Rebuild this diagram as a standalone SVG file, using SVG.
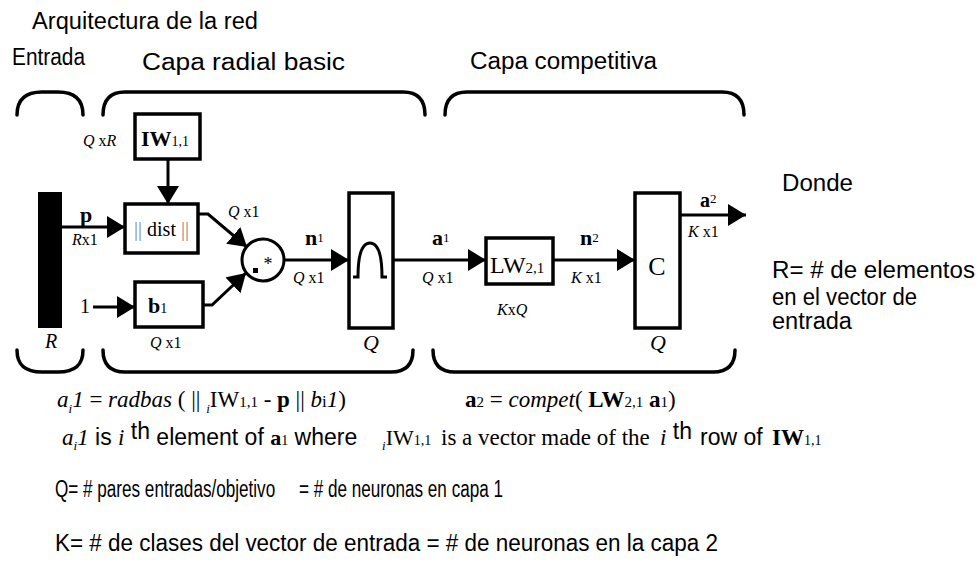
<svg xmlns="http://www.w3.org/2000/svg" width="979" height="563" viewBox="0 0 979 563">
<defs>
<style>
.s{font-family:"Liberation Sans",Arial,sans-serif;font-size:23px;fill:#000}
.t{font-family:"Liberation Serif","Times New Roman",serif;fill:#000}
.i{font-style:italic}
.b{font-weight:bold}
.box{fill:#fff;stroke:#000;stroke-width:3.5}
.ln{fill:none;stroke:#000;stroke-width:3}
.br{fill:none;stroke:#000;stroke-width:3.5;stroke-linecap:round}
.pre{white-space:pre}
</style>
<marker id="ah" markerUnits="userSpaceOnUse" markerWidth="18" markerHeight="22" refX="18" refY="11" orient="auto">
<path d="M0,0 L18,11 L0,22 Z" fill="#000"/>
</marker>
</defs>
<rect width="979" height="563" fill="#fff"/>

<!-- headers -->
<text class="s" x="32" y="29" textLength="226" lengthAdjust="spacingAndGlyphs">Arquitectura de la red</text>
<text class="s" x="12" y="65" textLength="73" lengthAdjust="spacingAndGlyphs">Entrada</text>
<text class="s" x="142" y="70" textLength="203" lengthAdjust="spacingAndGlyphs">Capa radial basic</text>
<text class="s" x="470" y="69" textLength="187" lengthAdjust="spacingAndGlyphs">Capa competitiva</text>

<!-- brackets -->
<g id="brackets">
<path class="br" d="M17,115 C17,100 25,92 42,92 H58 C75,92 83,100 83,115"/>
<path class="br" d="M103,115 Q103,92 125,92 H403 Q425,92 425,115"/>
<path class="br" d="M445,115 Q445,92 467,92 H722 Q744,92 744,115"/>
<path class="br" d="M17,350 C17,365 25,372 42,372 H58 C75,372 83,365 83,350"/>
<path class="br" d="M103,350 Q103,372 125,372 H391 Q413,372 413,350"/>
<path class="br" d="M433,350 Q433,372 455,372 H713 Q735,372 735,350"/>
</g>

<!-- nodes -->
<g id="input">
<rect x="38" y="192" width="24" height="136" fill="#000"/>
<text class="t i" x="45" y="348" font-size="20">R</text>
</g>
<g id="iw">
<rect class="box" x="135" y="114" width="65" height="45"/>
<text class="t" y="146"><tspan x="141" class="b" font-size="22">IW</tspan><tspan font-size="14">1,1</tspan></text>
<text class="t" x="83" y="146" font-size="16"><tspan class="i">Q</tspan> x<tspan class="i">R</tspan></text>
</g>
<g id="dist">
<rect class="box" x="125" y="204" width="73" height="49"/>
<text class="t" x="161.5" y="236" font-size="20" text-anchor="middle"><tspan fill="#8a8a8a">||</tspan> dist <tspan fill="#8a8a8a">||</tspan></text>
</g>
<g id="bias">
<rect class="box" x="135" y="282" width="68" height="45"/>
<text class="t" y="313"><tspan x="148" class="b" font-size="22">b</tspan><tspan font-size="14">1</tspan></text>
<text class="t" x="150" y="348" font-size="16"><tspan class="i">Q</tspan> x1</text>
</g>
<g id="mult">
<circle cx="263" cy="260" r="21" fill="#fff" stroke="#000" stroke-width="3"/>
<text class="t" x="268" y="270" font-size="18" text-anchor="middle">*</text>
<rect x="253" y="268" width="5" height="5" fill="#000"/>
</g>
<g id="radbas">
<rect class="box" x="349" y="193" width="44" height="135"/>
<path class="ln" d="M353,277 H358 C358,255 362,243 370,243 C378,243 382,255 382,277 H387"/>
<text class="t i" x="363" y="350" font-size="22">Q</text>
</g>
<g id="lw">
<rect class="box" x="486" y="238" width="67" height="46"/>
<text class="t" y="273"><tspan x="490" font-size="24">LW</tspan><tspan font-size="15">2,1</tspan></text>
<text class="t" x="497" y="315" font-size="16"><tspan class="i">K</tspan>x<tspan class="i">Q</tspan></text>
</g>
<g id="compet">
<rect class="box" x="635" y="193" width="45" height="135"/>
<text class="t" x="657" y="275" font-size="26" text-anchor="middle">C</text>
<text class="t i" x="650" y="350" font-size="22">Q</text>
</g>

<!-- connectors -->
<g id="connectors">
<path class="ln" d="M62,227 H125" marker-end="url(#ah)"/>
<path class="ln" d="M168,159 V204" marker-end="url(#ah)"/>
<path class="ln" d="M93,307 H135" marker-end="url(#ah)"/>
<path class="ln" d="M198,214 H208 L247,247" marker-end="url(#ah)"/>
<path class="ln" d="M203,305 H212 L246,273" marker-end="url(#ah)"/>
<path class="ln" d="M284,260 H349" marker-end="url(#ah)"/>
<path class="ln" d="M393,260 H486" marker-end="url(#ah)"/>
<path class="ln" d="M553,260 H635" marker-end="url(#ah)"/>
<path class="ln" d="M680,215 H746" marker-end="url(#ah)"/>
</g>

<!-- connector labels -->
<g id="labels">
<text class="t b" x="80" y="222" font-size="22">p</text>
<text class="t" x="72" y="245" font-size="16"><tspan class="i">R</tspan>x1</text>
<text class="t" x="80" y="313" font-size="20">1</text>
<text class="t" x="228" y="217" font-size="16"><tspan class="i">Q</tspan> x1</text>
<text class="t" y="245"><tspan x="305" class="b" font-size="22">n</tspan><tspan font-size="13" dy="-3">1</tspan></text>
<text class="t" x="293" y="283" font-size="16"><tspan class="i">Q</tspan> x1</text>
<text class="t" y="245"><tspan x="432" class="b" font-size="22">a</tspan><tspan font-size="13" dy="-3">1</tspan></text>
<text class="t" x="422" y="283" font-size="16"><tspan class="i">Q</tspan> x1</text>
<text class="t" y="245"><tspan x="580" class="b" font-size="22">n</tspan><tspan font-size="13" dy="-3">2</tspan></text>
<text class="t" x="571" y="283" font-size="16"><tspan class="i">K</tspan> x1</text>
<text class="t" y="207"><tspan x="700" class="b" font-size="20">a</tspan><tspan font-size="13" dy="-4">2</tspan></text>
<text class="t" x="688" y="237" font-size="16"><tspan class="i">K</tspan> x1</text>
</g>

<!-- formulas -->
<text class="t" y="407" font-size="23"><tspan x="57" class="i">a</tspan><tspan class="i" font-size="13" dy="6">i</tspan><tspan class="i" dy="-6">1</tspan> = <tspan class="i">radbas</tspan> ( || <tspan class="i" font-size="13" dy="6">i</tspan><tspan dy="-6">IW</tspan><tspan font-size="15">1,1</tspan> - <tspan class="b">p</tspan> || <tspan class="i">b</tspan><tspan font-size="17">i</tspan><tspan class="i">1</tspan>)</text>
<text class="t" y="407" font-size="23"><tspan x="465" class="b">a</tspan><tspan font-size="15">2</tspan> = <tspan class="i">compet</tspan>( <tspan class="b">LW</tspan><tspan font-size="15">2,1</tspan> <tspan class="b">a</tspan><tspan font-size="15">1</tspan>)</text>

<text y="445"><tspan x="62" class="t i" font-size="23">a</tspan><tspan class="t i" font-size="13" dy="5">i</tspan><tspan class="t i" font-size="23" dy="-5">1</tspan><tspan class="s" font-size="21"> is </tspan><tspan class="t i" font-size="23">i</tspan><tspan class="s" font-size="19" dy="-6"> th</tspan><tspan class="s" font-size="21" dy="6"> element of </tspan><tspan class="t b" font-size="22">a</tspan><tspan class="t" font-size="14">1</tspan><tspan class="s" font-size="21"> where </tspan><tspan x="382" class="t i" font-size="13" dy="5">i</tspan><tspan class="t" font-size="22" dy="-5">IW</tspan><tspan class="t" font-size="14">1,1</tspan><tspan x="441" class="t" font-size="23">is a vector made of the</tspan><tspan x="660" class="t i" font-size="23">i</tspan><tspan class="s" font-size="19" dy="-6"> th</tspan><tspan x="700" class="s" font-size="21" dy="6">row of</tspan><tspan x="772" class="t b" font-size="23">IW</tspan><tspan class="t" font-size="14">1,1</tspan></text>

<!-- notes -->
<text class="s" x="782" y="191" textLength="71" lengthAdjust="spacingAndGlyphs">Donde</text>
<text class="s" x="772" y="278" textLength="203" lengthAdjust="spacingAndGlyphs">R= # de elementos</text>
<text class="s" x="772" y="305" textLength="145" lengthAdjust="spacingAndGlyphs">en el vector de</text>
<text class="s" x="772" y="329" textLength="80" lengthAdjust="spacingAndGlyphs">entrada</text>
<text class="s pre" x="55" y="497" xml:space="preserve" textLength="448" lengthAdjust="spacingAndGlyphs">Q= # pares entradas/objetivo     = # de neuronas en capa 1</text>
<text class="s" x="55" y="551" textLength="663" lengthAdjust="spacingAndGlyphs">K= # de clases del vector de entrada = # de neuronas en la capa 2</text>
</svg>
